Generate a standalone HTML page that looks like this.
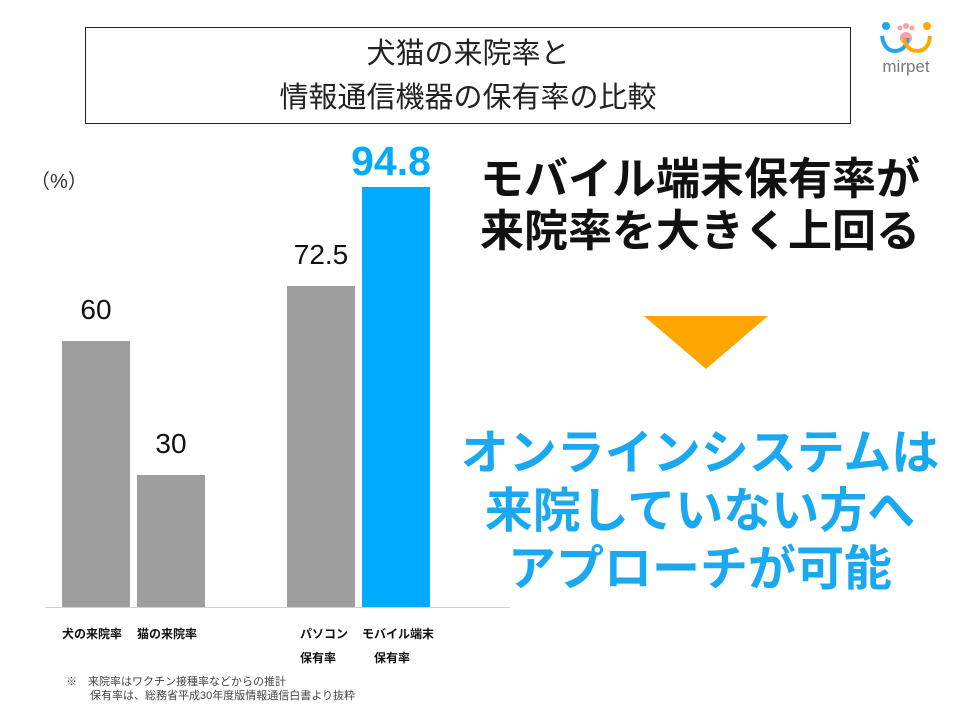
<!DOCTYPE html><html><head><meta charset="utf-8"><style>
body{margin:0;width:960px;height:720px;background:#fff;position:relative;overflow:hidden;font-family:"Liberation Sans","Noto Sans CJK JP",sans-serif}
.a{position:absolute}
.bar{position:absolute;background:#9e9e9e}
.v{position:absolute;font-size:28px;width:120px;text-align:center;color:#111}
.lb{position:absolute;font-size:12px;font-weight:bold;color:#111;white-space:nowrap}
.r{position:absolute;left:450px;width:500px;text-align:center;font-weight:bold;white-space:nowrap}
</style></head><body>
<div class="a" style="left:85px;top:27px;width:766px;height:97px;border:1px solid #222;text-align:center;font-size:29px;line-height:44px;color:#222;padding-top:4px;box-sizing:border-box">犬猫の来院率と<br>情報通信機器の保有率の比較</div>
<svg class="a" style="left:870px;top:14px" width="70" height="62">
<circle cx="36" cy="12" r="3" fill="#f7a1a8"/><circle cx="42" cy="14" r="2.5" fill="#f7a1a8"/><circle cx="30" cy="14" r="2.5" fill="#f7a1a8"/><circle cx="36" cy="24" r="6" fill="#f7a1a8"/>
<circle cx="16" cy="12" r="4" fill="#1ea7f0"/><circle cx="57" cy="12" r="4" fill="#ffa900"/>
<path d="M12 22 Q14 36 24 37 Q36 37 38 24" stroke="#1ea7f0" stroke-width="4" fill="none"/>
<path d="M34 24 Q36 37 48 37 Q59 36 60 22" stroke="#ffa900" stroke-width="4" fill="none"/>
<text x="36" y="58" text-anchor="middle" font-size="17" fill="#777" font-family="Liberation Sans">mirpet</text></svg>
<div class="a" style="left:30px;top:165px;font-size:20px;color:#333">（%）</div>
<div class="a" style="left:45px;top:607px;width:465px;height:1px;background:#d0d0d0"></div>
<div class="bar" style="left:62px;top:341px;width:68px;height:266px"></div>
<div class="bar" style="left:137px;top:475px;width:68px;height:132px"></div>
<div class="bar" style="left:287px;top:286px;width:68px;height:321px"></div>
<div class="bar" style="left:362px;top:187px;width:68px;height:420px;background:#00aaff"></div>
<div class="v" style="left:36px;top:294px">60</div>
<div class="v" style="left:111px;top:428px">30</div>
<div class="v" style="left:261px;top:239px">72.5</div>
<div class="v" style="left:331px;top:138px;font-size:41px;font-weight:bold;color:#00aaff">94.8</div>
<div class="lb" style="left:62px;top:625px">犬の来院率</div>
<div class="lb" style="left:137px;top:625px">猫の来院率</div>
<div class="lb" style="left:300px;top:625px">パソコン</div>
<div class="lb" style="left:300px;top:649px">保有率</div>
<div class="lb" style="left:362px;top:625px">モバイル端末</div>
<div class="lb" style="left:374px;top:649px">保有率</div>
<div class="a" style="left:66px;top:675px;font-size:11px;color:#444;line-height:14px;white-space:nowrap">※　来院率はワクチン接種率などからの推計<br><span style="padding-left:24px">保有率は、総務省平成30年度版情報通信白書より抜粋</span></div>
<div class="r" style="top:154px;font-size:44px;line-height:52px;color:#111">モバイル端末保有率が<br>来院率を大きく上回る</div>
<svg class="a" style="left:644px;top:316px" width="124" height="53"><polygon points="0,0 124,0 62,53" fill="#ffa500"/></svg>
<div class="r" style="top:425px;font-size:48px;line-height:58px;color:#1aa9f0">オンラインシステムは<br>来院していない方へ<br>アプローチが可能</div>
</body></html>
